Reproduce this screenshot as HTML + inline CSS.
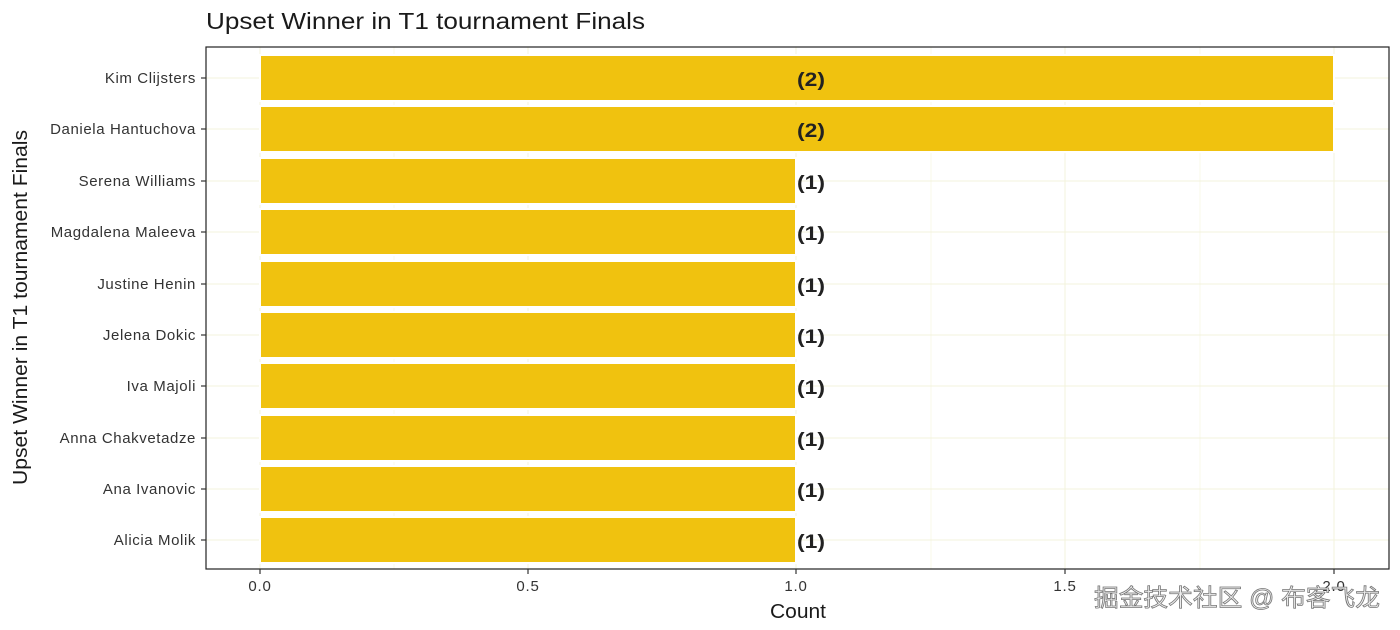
<!DOCTYPE html>
<html><head><meta charset="utf-8"><style>body{margin:0;background:#fff}svg{display:block}</style></head>
<body>
<svg width="1400" height="630" xmlns="http://www.w3.org/2000/svg" font-family="Liberation Sans, sans-serif">
<rect width="1400" height="630" fill="#fff"/>
<text x="206" y="29" font-size="23" fill="#1a1a1a" textLength="439" lengthAdjust="spacingAndGlyphs">Upset Winner in T1 tournament Finals</text>
<g stroke="#f3f3dc" stroke-width="1">
<line x1="394" y1="47" x2="394" y2="569" stroke-width="0.6"/><line x1="931" y1="47" x2="931" y2="569" stroke-width="0.6"/><line x1="1200" y1="47" x2="1200" y2="569" stroke-width="0.6"/>
<line x1="260" y1="47" x2="260" y2="569"/><line x1="528" y1="47" x2="528" y2="569"/><line x1="796" y1="47" x2="796" y2="569"/><line x1="1065" y1="47" x2="1065" y2="569"/><line x1="1334" y1="47" x2="1334" y2="569"/>
<line x1="206" y1="78" x2="1389" y2="78"/><line x1="206" y1="129" x2="1389" y2="129"/><line x1="206" y1="181" x2="1389" y2="181"/><line x1="206" y1="232" x2="1389" y2="232"/><line x1="206" y1="284" x2="1389" y2="284"/><line x1="206" y1="335" x2="1389" y2="335"/><line x1="206" y1="386" x2="1389" y2="386"/><line x1="206" y1="438" x2="1389" y2="438"/><line x1="206" y1="489" x2="1389" y2="489"/><line x1="206" y1="540" x2="1389" y2="540"/>
</g>
<g fill="#f0c20f" stroke="#fff" stroke-width="2">
<rect x="260" y="55" width="1074" height="46"/>
<rect x="260" y="106" width="1074" height="46"/>
<rect x="260" y="158" width="536" height="46"/>
<rect x="260" y="209" width="536" height="46"/>
<rect x="260" y="261" width="536" height="46"/>
<rect x="260" y="312" width="536" height="46"/>
<rect x="260" y="363" width="536" height="46"/>
<rect x="260" y="415" width="536" height="46"/>
<rect x="260" y="466" width="536" height="46"/>
<rect x="260" y="517" width="536" height="46"/>
</g>
<rect x="206" y="47" width="1183" height="522" fill="none" stroke="#222" stroke-width="1.2"/>
<g font-size="19" font-weight="bold" fill="#222">
<text x="797" y="86" textLength="28" lengthAdjust="spacingAndGlyphs">(2)</text><text x="797" y="137" textLength="28" lengthAdjust="spacingAndGlyphs">(2)</text>
<text x="797" y="189" textLength="28" lengthAdjust="spacingAndGlyphs">(1)</text><text x="797" y="240" textLength="28" lengthAdjust="spacingAndGlyphs">(1)</text><text x="797" y="292" textLength="28" lengthAdjust="spacingAndGlyphs">(1)</text><text x="797" y="343" textLength="28" lengthAdjust="spacingAndGlyphs">(1)</text><text x="797" y="394" textLength="28" lengthAdjust="spacingAndGlyphs">(1)</text><text x="797" y="446" textLength="28" lengthAdjust="spacingAndGlyphs">(1)</text><text x="797" y="497" textLength="28" lengthAdjust="spacingAndGlyphs">(1)</text><text x="797" y="548" textLength="28" lengthAdjust="spacingAndGlyphs">(1)</text>
</g>
<g font-size="15" fill="#333" text-anchor="end" style="letter-spacing:0.6px">
<text x="196" y="83">Kim Clijsters</text><text x="196" y="134">Daniela Hantuchova</text><text x="196" y="186">Serena Williams</text><text x="196" y="237">Magdalena Maleeva</text><text x="196" y="289">Justine Henin</text><text x="196" y="340">Jelena Dokic</text><text x="196" y="391">Iva Majoli</text><text x="196" y="443">Anna Chakvetadze</text><text x="196" y="494">Ana Ivanovic</text><text x="196" y="545">Alicia Molik</text>
</g>
<g stroke="#333" stroke-width="1.2">
<line x1="201" y1="78" x2="206" y2="78"/><line x1="201" y1="129" x2="206" y2="129"/><line x1="201" y1="181" x2="206" y2="181"/><line x1="201" y1="232" x2="206" y2="232"/><line x1="201" y1="284" x2="206" y2="284"/><line x1="201" y1="335" x2="206" y2="335"/><line x1="201" y1="386" x2="206" y2="386"/><line x1="201" y1="438" x2="206" y2="438"/><line x1="201" y1="489" x2="206" y2="489"/><line x1="201" y1="540" x2="206" y2="540"/>
<line x1="260" y1="569" x2="260" y2="574"/><line x1="528" y1="569" x2="528" y2="574"/><line x1="796" y1="569" x2="796" y2="574"/><line x1="1065" y1="569" x2="1065" y2="574"/><line x1="1334" y1="569" x2="1334" y2="574"/>
</g>
<g font-size="15" fill="#333" text-anchor="middle" style="letter-spacing:0.8px">
<text x="260" y="591">0.0</text><text x="528" y="591">0.5</text><text x="796" y="591">1.0</text><text x="1065" y="591">1.5</text><text x="1334" y="591">2.0</text>
</g>
<text x="770" y="618" font-size="20" fill="#1a1a1a" textLength="56" lengthAdjust="spacingAndGlyphs">Count</text>
<text transform="translate(27,485) rotate(-90)" font-size="20" fill="#1a1a1a" textLength="355" lengthAdjust="spacingAndGlyphs">Upset Winner in T1 tournament Finals</text>
<text x="1094" y="606" font-size="24" fill="#eee" stroke="#777" stroke-width="0.8" font-family="Liberation Sans, Noto Sans CJK SC, sans-serif" textLength="286" lengthAdjust="spacingAndGlyphs">掘金技术社区 @ 布客飞龙</text>
</svg>
</body></html>
